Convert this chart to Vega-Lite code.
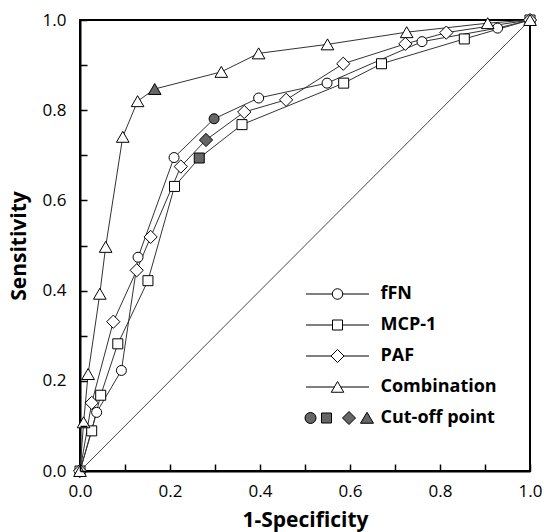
{
  "$schema": "https://vega.github.io/schema/vega-lite/v6.json",
  "width": 450,
  "height": 451,
  "autosize": {"type": "none"},
  "padding": {"left": 80, "top": 20, "right": 14, "bottom": 61},
  "background": "white",
  "config": {
    "font": "Open Sans",
    "view": {"stroke": "black", "strokeWidth": 2},
    "axis": {
      "domainColor": "black", "domainWidth": 2,
      "tickWidth": 1.5,
      "labelFont": "Open Sans", "labelFontSize": 17, "labelColor": "black",
      "titleFont": "Open Sans", "titleFontSize": 21, "titleFontWeight": "bold", "titleColor": "black",
      "grid": false, "labelFlush": false, "labelOverlap": false
    }
  },
  "datasets": {
    "diag": [{"x": 0, "y": 0}, {"x": 1, "y": 1}],
    "roc": [
      {"series": "fFN", "x": 0, "y": 0, "cutoff": false},
      {"series": "fFN", "x": 0.037, "y": 0.13, "cutoff": false},
      {"series": "fFN", "x": 0.092, "y": 0.223, "cutoff": false},
      {"series": "fFN", "x": 0.129, "y": 0.474, "cutoff": false},
      {"series": "fFN", "x": 0.209, "y": 0.695, "cutoff": false},
      {"series": "fFN", "x": 0.298, "y": 0.781, "cutoff": true},
      {"series": "fFN", "x": 0.397, "y": 0.827, "cutoff": false},
      {"series": "fFN", "x": 0.549, "y": 0.86, "cutoff": false},
      {"series": "fFN", "x": 0.76, "y": 0.952, "cutoff": false},
      {"series": "fFN", "x": 0.928, "y": 0.982, "cutoff": false},
      {"series": "fFN", "x": 1, "y": 1, "cutoff": false},
      {"series": "MCP-1", "x": 0, "y": 0, "cutoff": false},
      {"series": "MCP-1", "x": 0.026, "y": 0.089, "cutoff": false},
      {"series": "MCP-1", "x": 0.046, "y": 0.168, "cutoff": false},
      {"series": "MCP-1", "x": 0.084, "y": 0.282, "cutoff": false},
      {"series": "MCP-1", "x": 0.151, "y": 0.422, "cutoff": false},
      {"series": "MCP-1", "x": 0.21, "y": 0.631, "cutoff": false},
      {"series": "MCP-1", "x": 0.265, "y": 0.694, "cutoff": true},
      {"series": "MCP-1", "x": 0.36, "y": 0.768, "cutoff": false},
      {"series": "MCP-1", "x": 0.586, "y": 0.86, "cutoff": false},
      {"series": "MCP-1", "x": 0.67, "y": 0.903, "cutoff": false},
      {"series": "MCP-1", "x": 0.854, "y": 0.958, "cutoff": false},
      {"series": "MCP-1", "x": 1, "y": 1, "cutoff": false},
      {"series": "PAF", "x": 0, "y": 0, "cutoff": false},
      {"series": "PAF", "x": 0.026, "y": 0.151, "cutoff": false},
      {"series": "PAF", "x": 0.074, "y": 0.331, "cutoff": false},
      {"series": "PAF", "x": 0.126, "y": 0.445, "cutoff": false},
      {"series": "PAF", "x": 0.157, "y": 0.519, "cutoff": false},
      {"series": "PAF", "x": 0.224, "y": 0.675, "cutoff": false},
      {"series": "PAF", "x": 0.28, "y": 0.734, "cutoff": true},
      {"series": "PAF", "x": 0.365, "y": 0.796, "cutoff": false},
      {"series": "PAF", "x": 0.458, "y": 0.823, "cutoff": false},
      {"series": "PAF", "x": 0.585, "y": 0.903, "cutoff": false},
      {"series": "PAF", "x": 0.723, "y": 0.947, "cutoff": false},
      {"series": "PAF", "x": 0.814, "y": 0.972, "cutoff": false},
      {"series": "PAF", "x": 1, "y": 1, "cutoff": false},
      {"series": "Combination", "x": 0, "y": 0, "cutoff": false},
      {"series": "Combination", "x": 0.008, "y": 0.108, "cutoff": false},
      {"series": "Combination", "x": 0.018, "y": 0.215, "cutoff": false},
      {"series": "Combination", "x": 0.044, "y": 0.393, "cutoff": false},
      {"series": "Combination", "x": 0.057, "y": 0.497, "cutoff": false},
      {"series": "Combination", "x": 0.095, "y": 0.741, "cutoff": false},
      {"series": "Combination", "x": 0.128, "y": 0.82, "cutoff": false},
      {"series": "Combination", "x": 0.166, "y": 0.847, "cutoff": true},
      {"series": "Combination", "x": 0.314, "y": 0.885, "cutoff": false},
      {"series": "Combination", "x": 0.397, "y": 0.926, "cutoff": false},
      {"series": "Combination", "x": 0.55, "y": 0.946, "cutoff": false},
      {"series": "Combination", "x": 0.726, "y": 0.973, "cutoff": false},
      {"series": "Combination", "x": 0.906, "y": 0.993, "cutoff": false},
      {"series": "Combination", "x": 1, "y": 1, "cutoff": false}
    ]
  },
  "layer": [
    {
      "data": {"name": "diag"},
      "mark": {"type": "line", "color": "#333", "strokeWidth": 0.9},
      "encoding": {
        "x": {
          "field": "x", "type": "quantitative",
          "scale": {"domain": [0, 1], "nice": false},
          "axis": {
            "title": "1-Specificity",
            "values": [0, 0.2, 0.4, 0.6, 0.8, 1],
            "format": ".1f",
            "ticks": false,
            "labelPadding": 12, "titlePadding": 10
          }
        },
        "y": {
          "field": "y", "type": "quantitative",
          "scale": {"domain": [0, 1], "nice": false},
          "axis": {
            "title": "Sensitivity",
            "values": [0, 0.2, 0.4, 0.6, 0.8, 1],
            "format": ".1f",
            "ticks": false,
            "labelPadding": 14, "titlePadding": 13
          }
        }
      }
    },
    {
      "data": {"name": "roc"},
      "mark": {"type": "line", "color": "#333", "strokeWidth": 1},
      "encoding": {
        "x": {
          "field": "x", "type": "quantitative",
          "axis": {
            "orient": "top", "offset": -451, "title": null, "zindex": 1,
            "labels": false, "domain": false, "ticks": true, "tickSize": 7, "tickColor": "black",
            "values": [0, 0.1, 0.2, 0.3, 0.4, 0.5, 0.6, 0.7, 0.8, 0.9, 1]
          }
        },
        "y": {
          "field": "y", "type": "quantitative",
          "axis": {
            "orient": "right", "offset": -450, "title": null, "zindex": 1,
            "labels": false, "domain": false, "ticks": true, "tickSize": 7, "tickColor": "black",
            "values": [0, 0.1, 0.2, 0.3, 0.4, 0.5, 0.6, 0.7, 0.8, 0.9, 1]
          }
        },
        "detail": {"field": "series", "type": "nominal"}
      }
    },
    {
      "data": {"name": "roc"},
      "mark": {"type": "point", "filled": true, "stroke": "black", "strokeWidth": 1, "opacity": 1},
      "encoding": {
        "x": {"field": "x", "type": "quantitative", "axis": null},
        "y": {"field": "y", "type": "quantitative", "axis": null},
        "shape": {
          "field": "series", "type": "nominal",
          "scale": {"domain": ["fFN", "MCP-1", "PAF", "Combination"], "range": ["circle", "square", "diamond", "triangle-up"]},
          "legend": null
        },
        "size": {
          "field": "series", "type": "nominal",
          "scale": {"type": "ordinal", "domain": ["fFN", "MCP-1", "PAF", "Combination"], "range": [100, 100, 175, 160]},
          "legend": null
        },
        "fill": {"condition": {"test": "datum.cutoff", "value": "#666"}, "value": "white"}
      }
    },
    {
      "data": {"name": "roc"},
      "transform": [{"filter": "datum.series == 'none'"}],
      "mark": {"type": "point", "filled": false, "color": "black", "stroke": "black", "strokeWidth": 1, "opacity": 1},
      "encoding": {
        "x": {"field": "x", "type": "quantitative", "axis": null},
        "y": {"field": "y", "type": "quantitative", "axis": null},
        "shape": {
          "field": "series", "type": "nominal",
          "scale": {
            "domain": ["fFN", "MCP-1", "PAF", "Combination", "Cut-off point"],
            "range": [
              "M-6.3,0H-1.05M1.05,0H6.3M1.05,0A1.05,1.05,0,1,1,-1.05,0A1.05,1.05,0,1,1,1.05,0Z",
              "M-6.3,0H-1M1,0H6.3M-1,-1H1V1H-1Z",
              "M-6.3,0H-1.3M1.3,0H6.3M0,-1.3L1.3,0L0,1.3L-1.3,0Z",
              "M-6.3,0H-0.62M0.62,0H6.3M0,-1.1L1.25,1.05H-1.25Z",
              "M-4.3,0A1.1,1.1,0,1,1,-6.5,0A1.1,1.1,0,1,1,-4.3,0ZM-3.2,-1H-1.2V1H-3.2ZM2.3,-1.3L3.6,0L2.3,1.3L1,0ZM5.9,-1.15L7.2,1.05H4.6Z"
            ]
          },
          "legend": {
            "orient": "none", "legendX": 226, "legendY": 265,
            "title": null, "padding": 0,
            "symbolSize": 100, "symbolOffset": 22.5, "labelOffset": 34,
            "symbolStrokeColor": "black", "symbolStrokeWidth": 1, "symbolOpacity": 1,
            "labelFont": "Open Sans", "labelFontWeight": "bold", "labelFontSize": 18, "labelColor": "black",
            "rowPadding": 13, "labelLimit": 300
          }
        },
        "fill": {
          "field": "series", "type": "nominal",
          "scale": {
            "domain": ["fFN", "MCP-1", "PAF", "Combination", "Cut-off point"],
            "range": ["white", "white", "white", "white", "#666"]
          },
          "legend": {
            "orient": "none", "legendX": 226, "legendY": 265,
            "title": null, "padding": 0,
            "symbolSize": 100, "symbolOffset": 22.5, "labelOffset": 34,
            "symbolStrokeColor": "black", "symbolStrokeWidth": 1, "symbolOpacity": 1,
            "labelFont": "Open Sans", "labelFontWeight": "bold", "labelFontSize": 18, "labelColor": "black",
            "rowPadding": 13, "labelLimit": 300
          }
        },
        "stroke": {
          "field": "series", "type": "nominal",
          "scale": {
            "domain": ["fFN", "MCP-1", "PAF", "Combination", "Cut-off point"],
            "range": ["black", "black", "black", "black", "black"]
          },
          "legend": {
            "orient": "none", "legendX": 226, "legendY": 265,
            "title": null, "padding": 0,
            "symbolSize": 100, "symbolOffset": 22.5, "labelOffset": 34,
            "symbolStrokeColor": "black", "symbolStrokeWidth": 1, "symbolOpacity": 1,
            "labelFont": "Open Sans", "labelFontWeight": "bold", "labelFontSize": 18, "labelColor": "black",
            "rowPadding": 13, "labelLimit": 300
          }
        }
      }
    }
  ],
  "resolve": {
    "scale": {"shape": "independent", "size": "independent", "fill": "independent", "stroke": "independent"},
    "axis": {"x": "independent", "y": "independent"}
  }
}
